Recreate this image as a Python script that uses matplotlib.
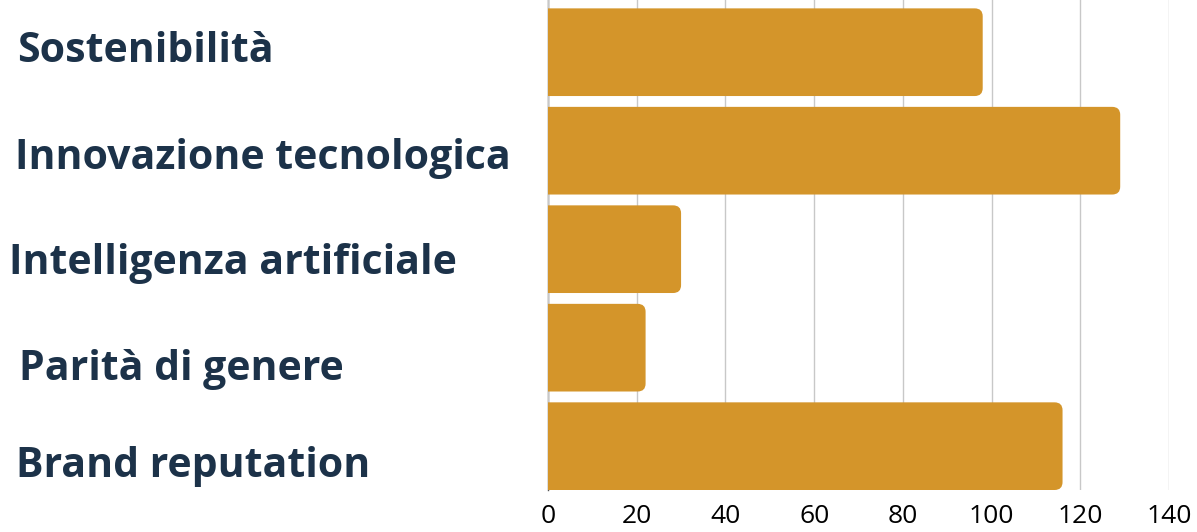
import matplotlib.pyplot as plt
from matplotlib.patches import FancyBboxPatch
from matplotlib.transforms import blended_transform_factory, offset_copy

categories = ["Sostenibilità", "Innovazione tecnologica", "Intelligenza artificiale",
              "Parità di genere", "Brand reputation"]
values = [98, 129, 30, 22, 116]
x_ticks = [0, 20, 40, 60, 80, 100, 120, 140]

bar_color = "#D4952A"
label_color = "#1C3249"
# labels in the original sit a bit off the bar centres (pixels, downwards)
label_shift = [-1, 8, 14, 22, 20]
label_x = [17, 15, 9, 19, 16]

fig = plt.figure(figsize=(11.97, 5.32), dpi=100)
ax = fig.add_axes([548 / 1197, 42 / 532, (1169 - 548) / 1197, 490 / 532])

bar_h = 0.89
ypos = list(range(len(categories)))
bars = ax.barh(ypos, values, height=bar_h, color=bar_color, zorder=2)

ax.set_xlim(0, 140)
ax.set_ylim(4 + bar_h / 2, -bar_h / 2 - 0.085)

# rounded right ends: swap each bar for a rounded box starting left of 0
rx = 1.8
ry = 0.08
for b in bars:
    x0, y0 = b.get_x(), b.get_y()
    w, h = b.get_width(), b.get_height()
    b.set_visible(False)
    p = FancyBboxPatch((x0 - 5, y0), w + 5, h,
                       boxstyle=f"round,pad=0,rounding_size={rx}",
                       mutation_aspect=ry / rx,
                       facecolor=bar_color, edgecolor="none", zorder=2)
    ax.add_patch(p)

ax.set_xticks(x_ticks)
ax.tick_params(axis="x", length=0, pad=10, labelsize=19, labelcolor="black")
for t in ax.get_xticklabels():
    t.set_fontfamily("Open Sans")
ax.grid(axis="x", color="#C8C8C8", linewidth=1, zorder=0)
ax.set_yticks([])
for s in ["top", "right", "bottom"]:
    ax.spines[s].set_visible(False)
ax.spines["left"].set_color("#555555")
ax.spines["left"].set_linewidth(1)
ax.spines["left"].set_zorder(1)

trans = blended_transform_factory(fig.transFigure, ax.transData)
for y, name, dy, lx in zip(ypos, categories, label_shift, label_x):
    tr = offset_copy(trans, fig=fig, x=0, y=-dy * 0.72, units="points")
    fig.text(lx / 1197, y, name, transform=tr,
             ha="left", va="center", fontsize=29.5, fontweight="bold",
             fontfamily="Open Sans", color=label_color)

fig.savefig("out.png", dpi=100)
